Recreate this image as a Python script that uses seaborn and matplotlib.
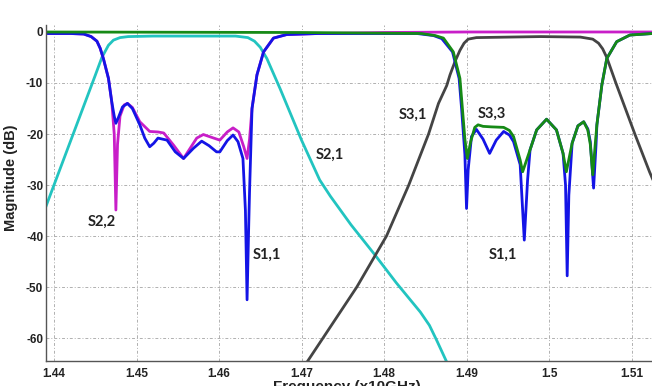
import numpy as np
import pandas as pd
import matplotlib
matplotlib.use("Agg")
import matplotlib.pyplot as plt
import seaborn as sns

# ---- data ----
s21_f = [1.4390, 1.4410, 1.4430, 1.4450, 1.4458, 1.4466, 1.4472, 1.4480, 1.4490, 1.4520,
         1.4620, 1.4635, 1.4643, 1.4650, 1.4658, 1.4674, 1.4700, 1.4722, 1.4735, 1.4760,
         1.4789, 1.4815, 1.4844, 1.4855, 1.4864, 1.4876, 1.4880]
s21_db = [-34.3, -25.7, -17.1, -8.5, -5.0, -2.6, -1.6, -1.1, -0.9, -0.8,
          -0.8, -1.1, -1.8, -3.0, -5.2, -11.1, -21.2, -29.0, -32.2, -37.8,
          -43.7, -49.2, -54.9, -57.5, -60.5, -64.7, -66.0]

s31_f = [1.4705, 1.47067, 1.4726, 1.4767, 1.4803, 1.4830, 1.4854, 1.4866, 1.4876, 1.4880,
         1.4886, 1.4892, 1.4897, 1.4902, 1.4912, 1.4990, 1.5038, 1.5053, 1.5060, 1.5065,
         1.5070, 1.5081, 1.5104, 1.5122, 1.5126]
s31_db = [-65.5, -64.7, -60.0, -50.0, -40.0, -30.0, -20.0, -14.0, -10.5, -8.4,
          -5.8, -3.6, -2.2, -1.4, -1.1, -0.9, -1.0, -1.4, -2.2, -3.3,
          -5.0, -10.0, -20.0, -27.5, -29.0]

s22_f = [1.4390, 1.4420, 1.4436, 1.4445, 1.4452, 1.4456, 1.4460, 1.4466, 1.4470, 1.4473,
         1.4475, 1.4477, 1.4480, 1.4485, 1.4489, 1.4495, 1.4504, 1.4516, 1.4526, 1.4533,
         1.4545, 1.4557, 1.4565, 1.4573, 1.4581, 1.4590, 1.4601, 1.4610, 1.4617, 1.4624,
         1.4630, 1.4634, 1.4637, 1.4640, 1.4646, 1.4654, 1.4666, 1.4682, 1.4720, 1.4800,
         1.4900, 1.5125]
s22_db = [-0.3, -0.3, -0.4, -0.9, -1.8, -3.2, -5.3, -9.1, -13.7, -20.0,
          -34.9, -22.0, -16.5, -14.3, -14.0, -14.8, -17.6, -19.5, -19.6, -19.8,
          -22.2, -24.8, -22.8, -20.8, -20.1, -20.6, -21.2, -19.6, -18.8, -19.6,
          -22.5, -24.8, -21.0, -15.0, -8.4, -3.9, -1.2, -0.5, -0.3, -0.1,
          0.0, 0.0]

s11_f = [1.4390, 1.4420, 1.4436, 1.4445, 1.4452, 1.4456, 1.4460, 1.4466, 1.4470, 1.4473,
         1.4475, 1.4478, 1.4483, 1.4489, 1.4495, 1.4504, 1.4510, 1.4516, 1.4521, 1.4526,
         1.4537, 1.4547, 1.4557, 1.4569, 1.4579, 1.4588, 1.4597, 1.4601, 1.4610, 1.4617,
         1.4623, 1.4629, 1.4632, 1.4634, 1.4636, 1.4637, 1.4640, 1.4646, 1.4654, 1.4666,
         1.4682, 1.4720, 1.4840, 1.4860, 1.4870, 1.4883, 1.4891, 1.4894, 1.4898, 1.4900,
         1.4902, 1.4906, 1.4912, 1.4920, 1.4928, 1.4936, 1.4945, 1.4952, 1.4957, 1.4965,
         1.4970, 1.4974, 1.4977, 1.4985, 1.4997, 1.5009, 1.5017, 1.5020, 1.5022, 1.5024,
         1.5028, 1.5035, 1.5042, 1.5047, 1.5050, 1.5054, 1.5057, 1.5058, 1.5064, 1.5070,
         1.5082, 1.5098, 1.5125]
s11_db = [-0.3, -0.3, -0.4, -0.9, -1.8, -3.2, -5.3, -9.1, -13.7, -16.5,
          -17.9, -16.8, -14.7, -14.0, -15.0, -18.2, -20.8, -22.5, -21.8, -20.8,
          -21.2, -23.5, -24.8, -22.8, -21.4, -22.3, -23.5, -23.5, -21.3, -20.2,
          -21.5, -24.8, -35.0, -52.5, -38.0, -31.3, -15.0, -8.4, -3.9, -1.2,
          -0.5, -0.3, -0.3, -0.7, -1.3, -3.9, -9.1, -15.0, -24.0, -34.6,
          -27.0, -20.5, -19.1, -21.0, -23.8, -21.2, -19.5, -20.2, -21.5, -26.0,
          -40.8, -29.0, -23.1, -19.2, -17.1, -19.2, -23.8, -30.0, -47.8, -32.0,
          -21.8, -18.4, -17.6, -19.0, -21.5, -30.6, -22.0, -18.2, -10.4, -5.2,
          -1.9, -0.6, -0.3]

s33_f = [1.4390, 1.4700, 1.4845, 1.4862, 1.4872, 1.4884, 1.4892, 1.4895, 1.4898, 1.4901,
         1.4905, 1.4910, 1.4914, 1.4920, 1.4930, 1.4945, 1.4952, 1.4957, 1.4965, 1.4968,
         1.4972, 1.4977, 1.4985, 1.4997, 1.5009, 1.5017, 1.5021, 1.5024, 1.5028, 1.5035,
         1.5042, 1.5047, 1.5050, 1.5053, 1.5056, 1.5058, 1.5064, 1.5070, 1.5082, 1.5098,
         1.5125]
s33_db = [0.0, -0.1, -0.3, -0.7, -1.2, -3.9, -9.1, -15.0, -21.0, -24.8,
          -21.5, -18.7, -18.2, -18.5, -18.6, -18.7, -19.3, -20.5, -25.1, -27.4,
          -25.5, -23.1, -19.2, -17.1, -19.2, -23.8, -27.4, -25.0, -21.8, -18.4,
          -17.6, -19.2, -22.0, -28.0, -22.0, -18.2, -10.4, -5.2, -1.9, -0.6,
          -0.3]

x_ticks = [1.44, 1.45, 1.46, 1.47, 1.48, 1.49, 1.50, 1.51]
x_tick_labels = ["1.44", "1.45", "1.46", "1.47", "1.48", "1.49", "1.5", "1.51"]
y_ticks = [0, -10, -20, -30, -40, -50, -60]
y_tick_labels = ["0", "-10", "-20", "-30", "-40", "-50", "-60"]

annot_text = ["S2,2", "S1,1", "S2,1", "S3,1", "S3,3", "S1,1"]
annot_f = [1.44578, 1.46578, 1.47345, 1.48355, 1.49305, 1.49446]
annot_db = [-37.2, -43.7, -24.1, -16.3, -16.1, -43.7]

# ---- plotting ----
sns.set_style("white")
plt.rcParams['font.family'] = ['Liberation Sans', 'DejaVu Sans']

fig = plt.figure(figsize=(6.52, 3.86), dpi=100)
ax = fig.add_axes([46 / 652, 1 - 361 / 386, 1 - 46 / 652, (361 - 25) / 386])

series = [
    (s21_f, s21_db, "#22c4c0"),
    (s31_f, s31_db, "#444444"),
    (s22_f, s22_db, "#c81ec8"),
    (s11_f, s11_db, "#1414e6"),
    (s33_f, s33_db, "#168a16"),
]
for f, db, col in series:
    df = pd.DataFrame({"f": f, "db": db})
    sns.lineplot(data=df, x="f", y="db", ax=ax, color=col, lw=2.0,
                 sort=False, estimator=None)

ax.set_xlim(1.43903, 1.51248)
ax.set_ylim(-64.5, 1.37)
ax.set_xticks(x_ticks)
ax.set_xticklabels(x_tick_labels)
ax.set_yticks(y_ticks)
ax.set_yticklabels(y_tick_labels)
ax.grid(True, color="#b0b0b0", lw=0.7, linestyle=(0, (3, 2, 1, 2)))
ax.set_axisbelow(True)
for s in ["top", "right"]:
    ax.spines[s].set_visible(False)
for s in ["left", "bottom"]:
    ax.spines[s].set_color("#555555")
    ax.spines[s].set_linewidth(1.0)
ax.tick_params(axis="both", direction="in", length=3, color="#555555",
               labelsize=8.5, labelcolor="#222222")
ax.tick_params(axis="x", pad=5)
ax.tick_params(axis="y", pad=2)
for lab in ax.get_xticklabels() + ax.get_yticklabels():
    lab.set_fontweight("bold")

ax.set_ylabel("Magnitude (dB)", fontsize=10.5, fontweight="bold", color="#222222")
ax.yaxis.set_label_coords((18 - 46) / 606, (361 - 178) / 336)
ax.set_xlabel("Frequency (x10GHz)", fontsize=11, fontweight="bold", color="#222222")
ax.xaxis.set_label_coords((347 - 46) / 606, -(380 - 361) / 336)

for t, f, db in zip(annot_text, annot_f, annot_db):
    ax.text(f, db, t, fontsize=10.5, fontweight="bold", color="#222222",
            ha="center", va="center", family=["Lato", "DejaVu Sans"])

fig.savefig("out.png", dpi=100)
